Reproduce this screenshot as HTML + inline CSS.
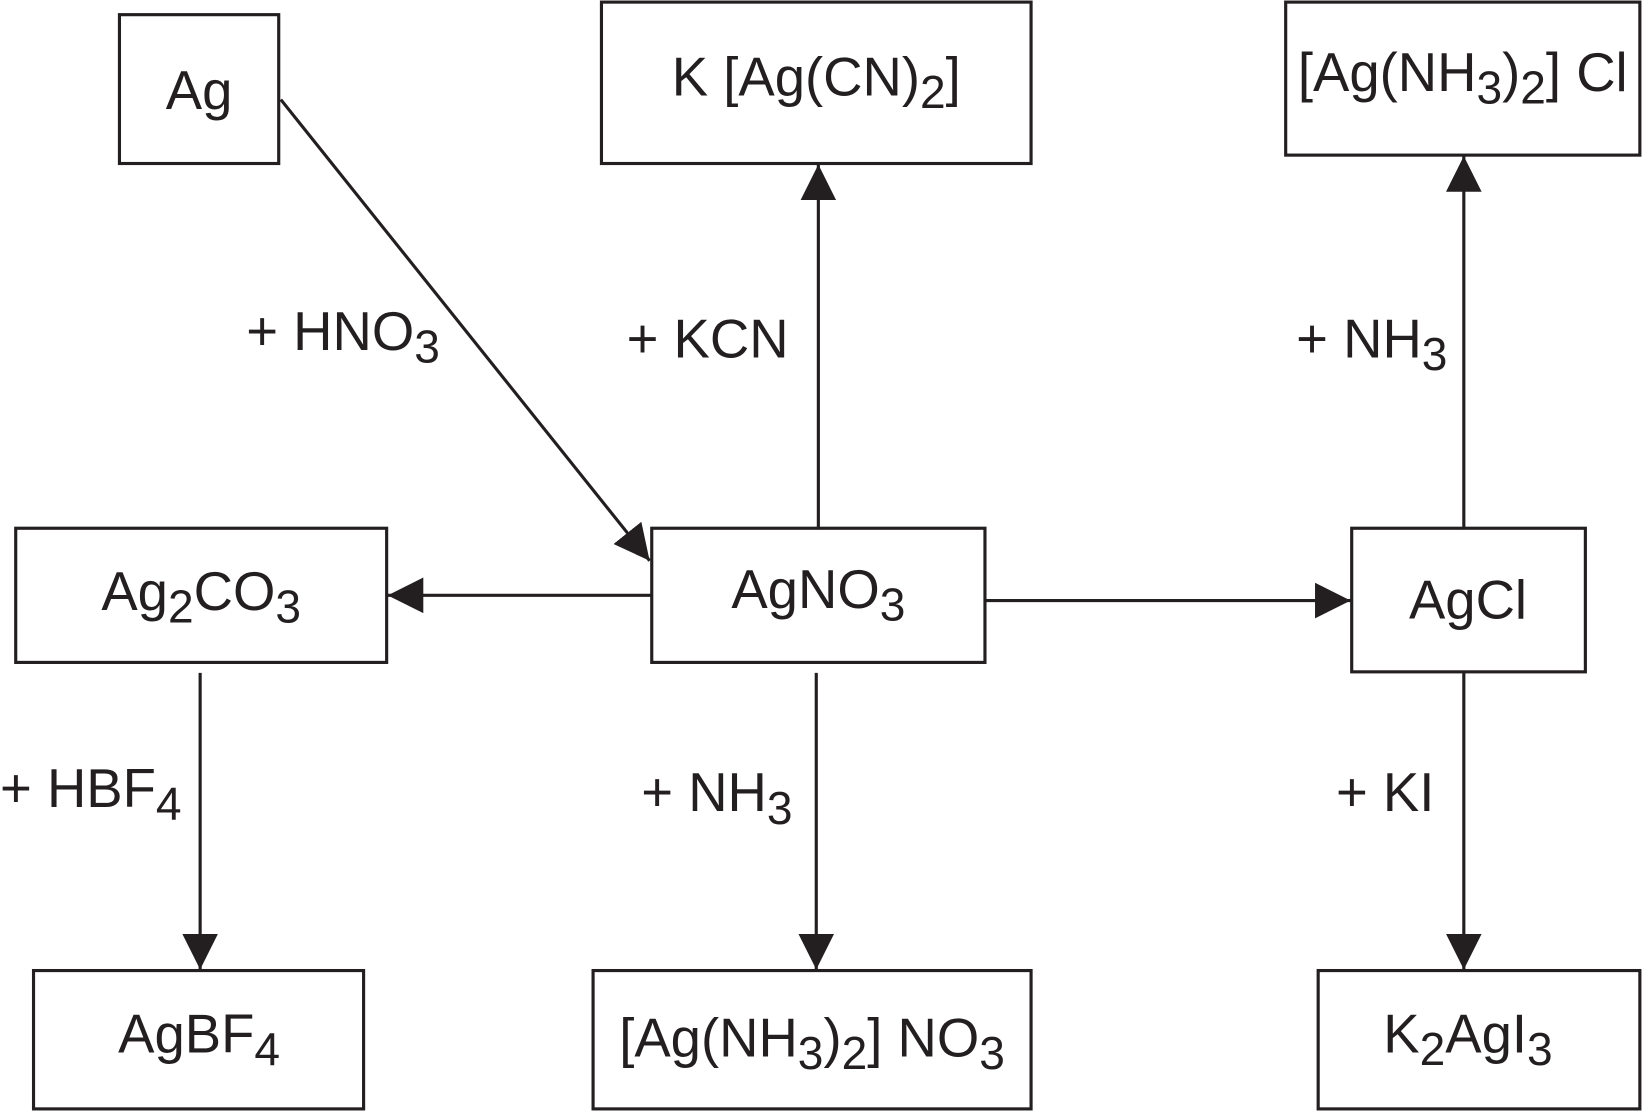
<!DOCTYPE html>
<html><head><meta charset="utf-8"><style>
html,body{margin:0;padding:0;background:#fff;}
svg{display:block;}
text{font-family:"Liberation Sans",Arial,sans-serif;font-size:52px;fill:#231f20;}
tspan.s{font-size:44px;}
</style></head><body>
<svg width="1643" height="1111" viewBox="0 0 1568 1060" preserveAspectRatio="none" xmlns="http://www.w3.org/2000/svg">
<defs>
<marker id="a" viewBox="0 0 10 10" refX="10" refY="5" markerWidth="34" markerHeight="34" markerUnits="userSpaceOnUse" orient="auto">
<path d="M0,0 L10,5 L0,10 z" fill="#231f20"/></marker>
</defs>
<g fill="none" stroke="#231f20" stroke-width="3">
<rect x="114" y="14" width="152" height="142"/>
<rect x="574" y="2" width="410" height="154"/>
<rect x="1227" y="2" width="338" height="146"/>
<rect x="15" y="504" width="354" height="128"/>
<rect x="622" y="504" width="318" height="128"/>
<rect x="1290" y="504" width="223" height="137"/>
<rect x="32" y="926" width="315" height="132"/>
<rect x="566" y="926" width="418" height="132"/>
<rect x="1258" y="926" width="307" height="132"/>
<line x1="268" y1="95" x2="620" y2="535" marker-end="url(#a)"/>
<line x1="781" y1="504" x2="781" y2="157" marker-end="url(#a)"/>
<line x1="1397" y1="504" x2="1397" y2="149" marker-end="url(#a)"/>
<line x1="622" y1="568" x2="370" y2="568" marker-end="url(#a)"/>
<line x1="940" y1="573" x2="1289" y2="573" marker-end="url(#a)"/>
<line x1="191" y1="642" x2="191" y2="925" marker-end="url(#a)"/>
<line x1="779" y1="642" x2="779" y2="925" marker-end="url(#a)"/>
<line x1="1397" y1="642" x2="1397" y2="925" marker-end="url(#a)"/>
</g>
<text x="190" y="104" text-anchor="middle">Ag</text>
<text x="779" y="91" text-anchor="middle">K [Ag(CN)<tspan class="s" dy="12">2</tspan><tspan dy="-12">]</tspan></text>
<text x="1396" y="87" text-anchor="middle">[Ag(NH<tspan class="s" dy="12">3</tspan><tspan dy="-12">)</tspan><tspan class="s" dy="12">2</tspan><tspan dy="-12">] Cl</tspan></text>
<text x="192" y="582" text-anchor="middle">Ag<tspan class="s" dy="12">2</tspan><tspan dy="-12">CO</tspan><tspan class="s" dy="12">3</tspan></text>
<text x="781" y="580" text-anchor="middle">AgNO<tspan class="s" dy="12">3</tspan></text>
<text x="1401" y="590" text-anchor="middle">AgCl</text>
<text x="190" y="1004" text-anchor="middle">AgBF<tspan class="s" dy="12">4</tspan></text>
<text x="775" y="1008" text-anchor="middle">[Ag(NH<tspan class="s" dy="12">3</tspan><tspan dy="-12">)</tspan><tspan class="s" dy="12">2</tspan><tspan dy="-12">] NO</tspan><tspan class="s" dy="12">3</tspan></text>
<text x="1401" y="1004" text-anchor="middle">K<tspan class="s" dy="12">2</tspan><tspan dy="-12">AgI</tspan><tspan class="s" dy="12">3</tspan></text>
<text x="235" y="334">+ HNO<tspan class="s" dy="12">3</tspan></text>
<text x="598" y="341">+ KCN</text>
<text x="1237" y="341">+ NH<tspan class="s" dy="12">3</tspan></text>
<text x="0" y="770">+ HBF<tspan class="s" dy="12">4</tspan></text>
<text x="612" y="774">+ NH<tspan class="s" dy="12">3</tspan></text>
<text x="1275" y="774">+ KI</text>
</svg>
</body></html>
